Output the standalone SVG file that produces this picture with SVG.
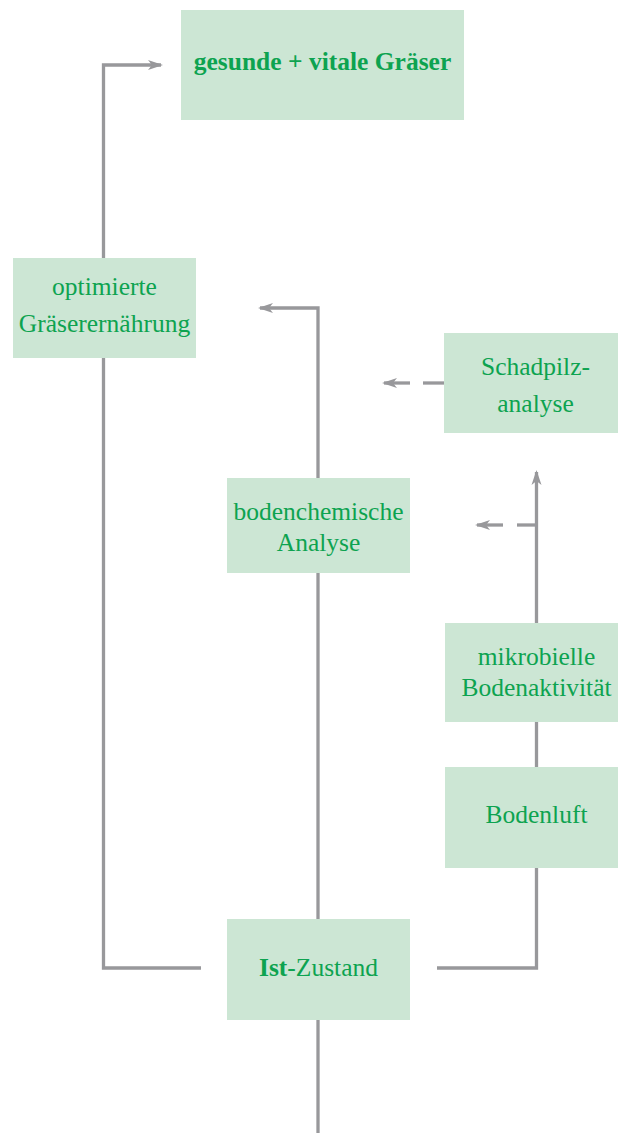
<svg xmlns="http://www.w3.org/2000/svg" width="618" height="1133" viewBox="0 0 618 1133">
<style>
.box{fill:#cce6d4}
.t{font-family:"Liberation Serif","Times New Roman",serif;font-size:25.5px;fill:#0da350;text-anchor:middle}
.b{font-weight:bold}
.c{fill:none;stroke:#98989b;stroke-width:3.3}
</style>
<defs>
<marker id="ah" markerUnits="userSpaceOnUse" markerWidth="16" markerHeight="12" refX="13" refY="6" orient="auto">
<path d="M0,1 L15,6 L0,11 L4,6 Z" fill="#98989b"/>
</marker>
</defs>
<rect width="618" height="1133" fill="#ffffff"/>
<g id="connectors">
<path class="c" d="M318,1133 V1020"/>
<path class="c" d="M318,919 V573"/>
<path class="c" d="M318,478 V308 H260" marker-end="url(#ah)"/>
<path class="c" d="M201,968 H103.5 V358"/>
<path class="c" d="M103.5,258 V65 H161" marker-end="url(#ah)"/>
<path class="c" d="M437,968 H536.5 V868"/>
<path class="c" d="M536.5,767 V722"/>
<path class="c" d="M536.5,623 V472" marker-end="url(#ah)"/>
<path class="c" d="M536.5,525 H517"/>
<path class="c" d="M503,525 H477" marker-end="url(#ah)"/>
<path class="c" d="M444,383 H423"/>
<path class="c" d="M410,383 H384" marker-end="url(#ah)"/>
</g>
<g id="n-gesund">
<rect class="box" x="181" y="10" width="283" height="110"/>
<text class="t b" x="322.5" y="70">gesunde + vitale Gräser</text>
</g>
<g id="n-optimierte">
<rect class="box" x="13" y="258" width="183" height="100"/>
<text class="t" x="104.5" y="295">optimierte</text>
<text class="t" x="104.5" y="332">Gräserernährung</text>
</g>
<g id="n-schadpilz">
<rect class="box" x="444" y="333" width="183" height="100"/>
<text class="t" x="535.5" y="375">Schadpilz-</text>
<text class="t" x="535.5" y="412">analyse</text>
</g>
<g id="n-bodenchemisch">
<rect class="box" x="227" y="478" width="183" height="95"/>
<text class="t" x="318.5" y="520">bodenchemische</text>
<text class="t" x="318.5" y="551">Analyse</text>
</g>
<g id="n-mikrobiell">
<rect class="box" x="445" y="623" width="183" height="99"/>
<text class="t" x="536.5" y="665">mikrobielle</text>
<text class="t" x="536.5" y="696">Bodenaktivität</text>
</g>
<g id="n-bodenluft">
<rect class="box" x="445" y="767" width="183" height="101"/>
<text class="t" x="536.5" y="823">Bodenluft</text>
</g>
<g id="n-ist">
<rect class="box" x="227" y="919" width="183" height="101"/>
<text class="t" x="318.5" y="976"><tspan class="b">Ist</tspan>-Zustand</text>
</g>
</svg>
